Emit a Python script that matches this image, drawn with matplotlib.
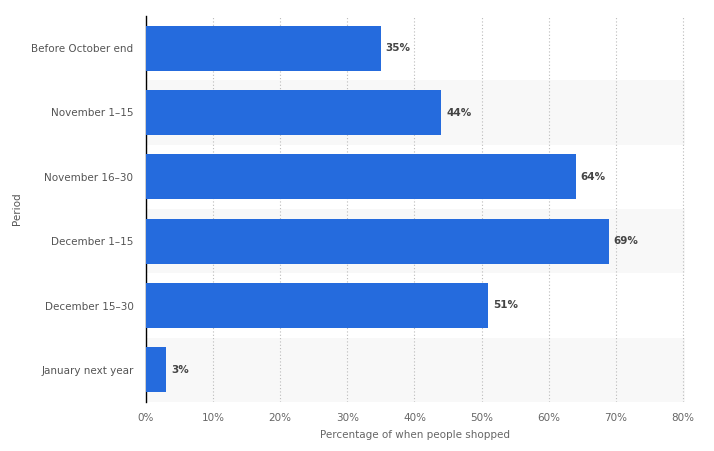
import matplotlib
matplotlib.use("Agg")
import matplotlib.pyplot as plt
import numpy as np

categories = ["Before October end", "November 1–15", "November 16–30",
              "December 1–15", "December 15–30", "January next year"]
values = [35, 44, 64, 69, 51, 3]
xticks = [0, 10, 20, 30, 40, 50, 60, 70, 80]
xtick_labels = [f"{t}%" for t in xticks]

plt.rcParams['font.family'] = ['DejaVu Sans']
fig = plt.figure(figsize=(7.14, 4.51), dpi=100)
ax = fig.add_axes([146/714, 1-402/451, (685-146)/714, (402-16)/451])

n = len(categories)
y = np.arange(n)
for i in range(n):
    if i % 2 == 1:
        ax.axhspan(i-0.5, i+0.5, color="#f8f8f8", zorder=0, lw=0)

ax.barh(y, values, height=0.7, color="#256bdd", zorder=3)
for yi, v in zip(y, values):
    ax.text(v + 0.7, yi, f"{v}%", va="center", ha="left", fontsize=7.5,
            color="#444444", fontweight="bold", zorder=4)

ax.set_ylim(n-0.5, -0.5)
ax.set_xlim(0, 80.3)
ax.set_yticks(y)
ax.set_yticklabels(categories, fontsize=7.5, color="#555555")
ax.set_xticks(xticks)
ax.set_xticklabels(xtick_labels, fontsize=7.5, color="#666666")
ax.tick_params(axis="both", length=0)
ax.tick_params(axis="y", pad=9)
ax.tick_params(axis="x", pad=8)
for s in ["top", "right", "bottom"]:
    ax.spines[s].set_visible(False)
ax.spines["left"].set_color("black")
ax.spines["left"].set_linewidth(1)
ax.grid(axis="x", linestyle=(0, (1, 2)), color="#bbbbbb", lw=0.8, zorder=1)
ax.set_axisbelow(True)
ax.set_xlabel("Percentage of when people shopped", fontsize=7.5, color="#666666", labelpad=5)
ax.set_ylabel("Period", fontsize=7.5, color="#555555", labelpad=7)

fig.savefig("out.png", dpi=100)
